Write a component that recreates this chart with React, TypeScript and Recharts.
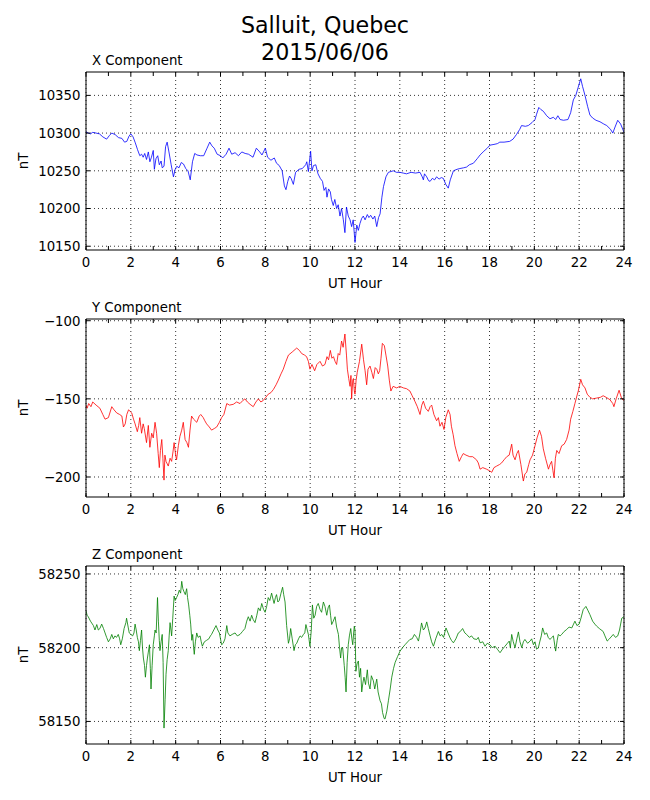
import React from 'react';
import { LineChart, Line, XAxis, YAxis, CartesianGrid, Label } from 'recharts';

const FONT = '"DejaVu Sans", sans-serif';

const hourTicks = [0, 1, 2, 3, 4, 5, 6, 7, 8, 9, 10, 11, 12, 13, 14, 15, 16, 17, 18, 19, 20, 21, 22, 23, 24];
const gridHours = [0, 2, 4, 6, 8, 10, 12, 14, 16, 18, 20, 22, 24];

const xTicks = [10150, 10200, 10250, 10300, 10350];
const yTicks = [-200, -150, -100];
const zTicks = [58150, 58200, 58250];

const xDomain = [10145, 10381];
const yDomain = [-212.8, -98.9];
const zDomain = [58134.7, 58255.4];

const xTimes = [
  0.0, 0.1, 0.2, 0.3, 0.45, 0.6, 0.75, 0.92, 1.05, 1.15, 1.3, 1.45, 1.6, 1.72, 1.82, 1.92, 2.0, 2.1, 2.2, 2.3,
  2.4, 2.48, 2.55, 2.62, 2.7, 2.78, 2.85, 2.92, 3.0, 3.05, 3.12, 3.2, 3.27, 3.35, 3.4, 3.48, 3.55, 3.62, 3.7, 3.8,
  3.9, 3.98, 4.05, 4.15, 4.25, 4.35, 4.45, 4.55, 4.65, 4.75, 4.85, 4.95, 5.1, 5.25, 5.4, 5.52, 5.62, 5.72, 5.85, 6.0,
  6.1, 6.25, 6.38, 6.5, 6.65, 6.8, 6.95, 7.1, 7.25, 7.45, 7.6, 7.75, 7.85, 8.0, 8.1, 8.25, 8.4, 8.5, 8.62, 8.75,
  8.85, 8.92, 9.0, 9.08, 9.15, 9.25, 9.35, 9.5, 9.65, 9.8, 9.85, 9.92, 10.02, 10.08, 10.15, 10.25, 10.35, 10.45, 10.55, 10.62,
  10.7, 10.75, 10.82, 10.9, 10.95, 11.03, 11.1, 11.18, 11.25, 11.33, 11.4, 11.48, 11.55, 11.62, 11.7, 11.78, 11.85, 11.92, 12.0, 12.08,
  12.15, 12.22, 12.3, 12.37, 12.45, 12.55, 12.62, 12.7, 12.8, 12.88, 12.97, 13.05, 13.12, 13.2, 13.27, 13.38, 13.49, 13.6, 13.71, 13.85,
  14.0, 14.15, 14.3, 14.5, 14.7, 14.9, 15.0, 15.05, 15.1, 15.2, 15.28, 15.35, 15.45, 15.55, 15.64, 15.75, 15.85, 15.94, 16.05, 16.16,
  16.25, 16.39, 16.55, 16.68, 16.85, 16.98, 17.1, 17.28, 17.45, 17.58, 17.75, 17.9, 18.02, 18.2, 18.35, 18.46, 18.65, 18.9, 19.05, 19.2,
  19.35, 19.43, 19.6, 19.73, 19.9, 20.03, 20.1, 20.2, 20.3, 20.4, 20.55, 20.7, 20.85, 20.95, 21.05, 21.15, 21.3, 21.5, 21.62, 21.74,
  21.85, 21.95, 22.07, 22.15, 22.26, 22.38, 22.48, 22.6, 22.75, 22.93, 23.1, 23.23, 23.4, 23.5, 23.6, 23.72, 23.85, 24.0,
];
const xValues = [
  10302, 10300, 10299, 10301, 10300, 10299, 10295, 10292, 10297, 10300, 10298, 10294, 10293, 10288, 10289, 10296, 10299, 10295, 10287, 10278,
  10270, 10272, 10268, 10273, 10265, 10275, 10262, 10268, 10277, 10252, 10266, 10270, 10258, 10263, 10254, 10256, 10282, 10288, 10275, 10258,
  10242, 10252, 10256, 10254, 10261, 10259, 10253, 10250, 10238, 10262, 10273, 10271, 10270, 10270, 10280, 10288, 10283, 10280, 10272, 10270,
  10267, 10272, 10280, 10272, 10274, 10270, 10275, 10273, 10272, 10268, 10280, 10275, 10271, 10280, 10268, 10264, 10267, 10260, 10257, 10250,
  10230, 10225, 10236, 10243, 10240, 10232, 10248, 10252, 10253, 10258, 10262, 10249, 10276, 10250, 10257, 10258, 10246, 10240, 10236, 10224,
  10228, 10215, 10226, 10222, 10212, 10204, 10212, 10200, 10205, 10190, 10200, 10185, 10168, 10202, 10190, 10185, 10176, 10185, 10155, 10178,
  10171, 10180, 10187, 10190, 10185, 10192, 10188, 10191, 10186, 10190, 10176, 10188, 10193, 10215, 10229, 10242, 10248, 10249, 10250, 10248,
  10248, 10247, 10246, 10248, 10247, 10248, 10242, 10238, 10246, 10242, 10237, 10236, 10240, 10238, 10242, 10239, 10241, 10240, 10232, 10227,
  10238, 10250, 10252, 10253, 10254, 10255, 10258, 10260, 10266, 10271, 10276, 10280, 10284, 10285, 10286, 10288, 10288, 10289, 10292, 10298,
  10305, 10310, 10309, 10310, 10314, 10318, 10325, 10334, 10331, 10329, 10323, 10319, 10321, 10318, 10323, 10318, 10317, 10318, 10327, 10344,
  10350, 10360, 10372, 10362, 10350, 10335, 10324, 10320, 10317, 10315, 10312, 10310, 10305, 10300, 10308, 10317, 10312, 10301,
];

const yTimes = [
  0.0, 0.05, 0.12, 0.22, 0.3, 0.45, 0.62, 0.75, 0.85, 1.0, 1.15, 1.25, 1.37, 1.5, 1.6, 1.67, 1.75, 1.82, 1.9, 2.04,
  2.12, 2.19, 2.29, 2.35, 2.4, 2.48, 2.55, 2.6, 2.7, 2.78, 2.85, 2.93, 3.0, 3.08, 3.15, 3.22, 3.27, 3.32, 3.38, 3.43,
  3.48, 3.52, 3.57, 3.67, 3.75, 3.82, 3.88, 3.93, 4.0, 4.04, 4.12, 4.19, 4.27, 4.34, 4.42, 4.5, 4.57, 4.64, 4.71, 4.8,
  4.94, 5.05, 5.12, 5.23, 5.3, 5.38, 5.5, 5.6, 5.72, 5.83, 5.95, 6.05, 6.15, 6.28, 6.4, 6.57, 6.72, 6.87, 7.0, 7.09,
  7.2, 7.32, 7.46, 7.58, 7.69, 7.8, 7.91, 8.02, 8.13, 8.25, 8.36, 8.48, 8.58, 8.7, 8.8, 8.92, 9.03, 9.2, 9.4, 9.52,
  9.62, 9.75, 9.84, 9.92, 9.99, 10.08, 10.2, 10.3, 10.44, 10.55, 10.66, 10.75, 10.82, 10.9, 10.97, 11.04, 11.11, 11.18, 11.25, 11.32,
  11.4, 11.47, 11.55, 11.62, 11.66, 11.72, 11.78, 11.82, 11.85, 11.9, 11.93, 11.97, 12.0, 12.05, 12.1, 12.2, 12.3, 12.38, 12.45, 12.52,
  12.58, 12.67, 12.75, 12.82, 12.9, 12.97, 13.04, 13.1, 13.16, 13.22, 13.31, 13.38, 13.46, 13.53, 13.6, 13.7, 13.86, 14.0, 14.16, 14.3,
  14.45, 14.55, 14.67, 14.78, 14.9, 14.98, 15.05, 15.15, 15.27, 15.35, 15.42, 15.52, 15.64, 15.72, 15.79, 15.88, 15.97, 16.05, 16.16, 16.24,
  16.3, 16.38, 16.46, 16.55, 16.65, 16.75, 16.83, 16.95, 17.12, 17.25, 17.42, 17.5, 17.58, 17.7, 17.87, 18.0, 18.1, 18.2, 18.32, 18.45,
  18.54, 18.65, 18.77, 18.88, 18.99, 19.05, 19.14, 19.22, 19.29, 19.4, 19.51, 19.58, 19.66, 19.75, 19.81, 19.92, 20.03, 20.12, 20.23, 20.32,
  20.4, 20.5, 20.63, 20.7, 20.77, 20.83, 20.88, 20.94, 21.0, 21.1, 21.22, 21.33, 21.44, 21.55, 21.62, 21.72, 21.81, 21.9, 21.96, 22.07,
  22.15, 22.26, 22.36, 22.48, 22.6, 22.78, 22.95, 23.07, 23.2, 23.37, 23.5, 23.55, 23.65, 23.78, 23.9, 24.0,
];
const yValues = [
  -154, -156, -153, -155, -152, -154, -156, -160, -163, -162, -155, -157, -159, -160, -161, -168, -166, -160, -157, -159,
  -163, -166, -171, -167, -162, -172, -166, -169, -178, -167, -181, -172, -175, -165, -172, -185, -194, -183, -176, -188,
  -202, -186, -190, -193, -188, -190, -184, -178, -186, -189, -180, -174, -170, -165, -176, -178, -181, -170, -161, -163,
  -165, -161, -160, -162, -164, -166, -168, -170, -169, -168, -165, -162, -160, -153, -154, -153.5, -152, -153, -151, -150,
  -152, -153.5, -155, -152, -150, -152, -151, -149, -147, -146, -144, -141, -138, -134, -131, -126, -122, -120, -117.5, -119,
  -121, -122, -123, -126, -131, -128, -132, -128, -126, -129, -128, -123, -125, -119, -124, -123, -126, -128, -121, -122,
  -113, -117, -108.5, -122, -131, -137, -142, -135, -150, -138, -137, -145, -147, -138, -133, -126, -115, -125, -132, -141,
  -131, -129, -133, -137, -130, -131, -134, -132, -124, -114.5, -116, -122, -129, -138, -145, -142, -143, -142, -143, -143.5,
  -145, -148, -151.5, -155, -160, -154, -151.5, -156, -158, -155, -154, -160, -164, -162, -167.5, -165, -169.6, -162, -157, -160,
  -167.5, -173, -180, -185, -190, -187, -185, -186, -187, -187, -189, -191, -195, -194, -195, -196, -197, -194, -193, -192,
  -191, -189, -187, -186, -179, -186, -189, -185, -183, -192, -202.6, -198, -197, -192, -189, -186, -180, -175, -170, -174,
  -182, -188, -195, -192, -190, -196, -200.5, -188, -183, -185, -180, -179, -176, -170, -163, -158, -153, -148, -145, -137.5,
  -141, -143, -147, -149, -150, -149.5, -149, -148, -149, -150.5, -153, -155, -150, -144.5, -150, -151,
];

const zTimes = [
  0.0, 0.05, 0.1, 0.2, 0.33, 0.4, 0.48, 0.55, 0.62, 0.7, 0.78, 0.85, 0.92, 1.0, 1.08, 1.15, 1.22, 1.29, 1.36, 1.44,
  1.5, 1.55, 1.62, 1.7, 1.78, 1.81, 1.88, 1.93, 2.0, 2.08, 2.14, 2.19, 2.24, 2.29, 2.34, 2.38, 2.43, 2.48, 2.52, 2.56,
  2.61, 2.65, 2.7, 2.74, 2.78, 2.83, 2.87, 2.9, 2.95, 3.0, 3.05, 3.08, 3.13, 3.19, 3.23, 3.27, 3.3, 3.35, 3.4, 3.44,
  3.48, 3.53, 3.57, 3.62, 3.67, 3.71, 3.75, 3.79, 3.82, 3.87, 3.93, 3.98, 4.04, 4.1, 4.16, 4.22, 4.27, 4.32, 4.37, 4.43,
  4.49, 4.53, 4.58, 4.63, 4.67, 4.72, 4.76, 4.8, 4.83, 4.88, 4.94, 5.0, 5.09, 5.14, 5.19, 5.28, 5.38, 5.48, 5.55, 5.6,
  5.7, 5.8, 5.88, 5.95, 6.05, 6.12, 6.2, 6.28, 6.33, 6.42, 6.52, 6.65, 6.75, 6.87, 6.98, 7.09, 7.17, 7.24, 7.32, 7.39,
  7.46, 7.54, 7.62, 7.69, 7.77, 7.84, 7.92, 7.99, 8.06, 8.13, 8.2, 8.28, 8.34, 8.39, 8.45, 8.5, 8.56, 8.62, 8.7, 8.77,
  8.82, 8.88, 8.95, 9.03, 9.08, 9.13, 9.2, 9.28, 9.34, 9.4, 9.48, 9.55, 9.62, 9.7, 9.76, 9.81, 9.87, 9.92, 9.99, 10.05,
  10.1, 10.16, 10.22, 10.29, 10.36, 10.44, 10.51, 10.59, 10.66, 10.74, 10.8, 10.86, 10.91, 10.96, 11.03, 11.11, 11.18, 11.26, 11.31, 11.36,
  11.4, 11.45, 11.52, 11.56, 11.6, 11.65, 11.7, 11.75, 11.81, 11.86, 11.9, 11.94, 11.97, 12.0, 12.04, 12.09, 12.15, 12.2, 12.25, 12.3,
  12.35, 12.4, 12.47, 12.55, 12.6, 12.67, 12.73, 12.82, 12.88, 12.97, 13.03, 13.12, 13.18, 13.23, 13.3, 13.34, 13.42, 13.49, 13.57, 13.64,
  13.72, 13.79, 13.9, 14.01, 14.12, 14.23, 14.35, 14.45, 14.55, 14.65, 14.75, 14.83, 14.9, 14.97, 15.05, 15.12, 15.2, 15.27, 15.35, 15.42,
  15.5, 15.6, 15.72, 15.8, 15.87, 15.95, 16.06, 16.15, 16.24, 16.3, 16.39, 16.5, 16.61, 16.7, 16.8, 16.9, 16.98, 17.1, 17.2, 17.3,
  17.43, 17.5, 17.58, 17.7, 17.8, 17.9, 18.02, 18.12, 18.25, 18.35, 18.47, 18.58, 18.69, 18.8, 18.88, 18.93, 18.99, 19.06, 19.14, 19.22,
  19.29, 19.36, 19.44, 19.51, 19.58, 19.7, 19.81, 19.88, 19.96, 20.03, 20.1, 20.18, 20.25, 20.31, 20.37, 20.46, 20.55, 20.62, 20.7, 20.78,
  20.85, 20.95, 21.02, 21.07, 21.15, 21.22, 21.33, 21.44, 21.55, 21.67, 21.75, 21.81, 21.9, 22.0, 22.08, 22.18, 22.3, 22.4, 22.48, 22.6,
  22.7, 22.78, 22.9, 23.07, 23.15, 23.25, 23.35, 23.52, 23.62, 23.72, 23.8, 23.9, 24.0,
];
const zValues = [
  58225, 58222, 58221, 58218, 58215, 58212, 58215.7, 58212, 58213, 58216, 58213, 58210, 58207, 58204, 58206, 58209, 58206, 58208, 58207, 58209,
  58206, 58202, 58206, 58213, 58217, 58220, 58214, 58210, 58209, 58208, 58210, 58216, 58212, 58207, 58204, 58198, 58205, 58212, 58200, 58193,
  58188, 58180, 58188, 58193, 58197, 58202, 58186, 58172, 58188, 58202, 58208, 58212, 58210, 58234, 58218, 58205, 58198, 58204, 58209, 58190,
  58145.5, 58165, 58182, 58192, 58198, 58208, 58217, 58212, 58208, 58220, 58235, 58232, 58234, 58236, 58239, 58237, 58245, 58240, 58238, 58236,
  58240, 58234, 58229, 58222, 58216, 58205, 58209, 58200, 58195.5, 58204, 58210, 58207, 58208, 58204, 58201, 58204, 58205, 58206, 58208, 58209,
  58212, 58215, 58212, 58210, 58202, 58203, 58206, 58215, 58210, 58208, 58209, 58210, 58208, 58209, 58211, 58213, 58218, 58221, 58218, 58222,
  58219, 58217, 58222, 58227, 58225, 58230, 58226, 58224, 58228, 58234, 58232, 58237, 58233, 58230, 58234, 58236, 58231, 58232, 58237, 58241,
  58236, 58231, 58215, 58203, 58206, 58213, 58206, 58198, 58202, 58203, 58206, 58208, 58207, 58209, 58210, 58215.7, 58212, 58209, 58201, 58212,
  58229, 58220, 58222, 58228, 58230, 58226, 58224, 58231, 58228, 58222, 58227, 58229, 58222, 58215.7, 58218, 58221, 58214, 58209, 58200, 58193,
  58200, 58200, 58188, 58180, 58170, 58190, 58202, 58208, 58213, 58206, 58202, 58210, 58214.6, 58212, 58184, 58189, 58191, 58180, 58186, 58170,
  58176, 58180, 58175, 58185, 58176, 58172, 58181, 58177.5, 58172, 58178.7, 58170, 58164, 58162, 58156, 58152, 58151.7, 58157, 58164, 58172, 58180,
  58186, 58190, 58194, 58197.7, 58200, 58202, 58204, 58205.6, 58206, 58209, 58207, 58204.5, 58210, 58216.8, 58212, 58213.4, 58217.5, 58213, 58208, 58204,
  58201, 58206, 58211, 58208, 58209, 58207, 58213.4, 58210, 58206.7, 58205, 58203.3, 58206, 58210, 58211, 58213, 58210, 58209, 58207, 58208, 58206,
  58205.6, 58207, 58203.3, 58204, 58201, 58203, 58202, 58200, 58201, 58199, 58196.6, 58199, 58201, 58203, 58204.5, 58200, 58209, 58204, 58200, 58206,
  58210.7, 58204, 58200, 58204, 58205.6, 58203, 58204.5, 58206, 58202, 58204, 58199, 58200, 58204.5, 58208, 58213.4, 58209, 58210, 58207, 58205.6, 58207,
  58208, 58197.7, 58205, 58209, 58208, 58209, 58211, 58212.3, 58214, 58213.4, 58216, 58218, 58215, 58216, 58220, 58225.8, 58228, 58225, 58222.4, 58218,
  58216, 58214.6, 58213, 58211, 58208, 58204.5, 58206, 58209, 58207, 58208, 58212, 58220, 58221,
];

const TICK_FS = 13.3;
const TICK_LEN = 4;

const fmt = (v: number) => String(v).replace('-', '\u2212');

const renderBottomTick = (p: any) => {
  const { x, y, payload } = p;
  const v = payload.value;
  return (
    <g>
      <line x1={x} y1={y} x2={x} y2={y - TICK_LEN} stroke="#000" strokeWidth={1} />
      {v % 2 === 0 ? (
        <text x={x} y={y + 16.7} textAnchor="middle" fontSize={TICK_FS} fontFamily={FONT} fill="#000">
          {fmt(v)}
        </text>
      ) : null}
    </g>
  );
};

const renderTopTick = (p: any) => {
  const { x, y } = p;
  return <line x1={x} y1={y} x2={x} y2={y + TICK_LEN} stroke="#000" strokeWidth={1} />;
};

const renderLeftTick = (p: any) => {
  const { x, y, payload } = p;
  return (
    <g>
      <line x1={x} y1={y} x2={x + TICK_LEN} y2={y} stroke="#000" strokeWidth={1} />
      <text x={x - 5.5} y={y} dy={4.8} textAnchor="end" fontSize={TICK_FS} fontFamily={FONT} fill="#000">
        {fmt(payload.value)}
      </text>
    </g>
  );
};

const renderRightTick = (p: any) => {
  const { x, y } = p;
  return <line x1={x} y1={y} x2={x - TICK_LEN} y2={y} stroke="#000" strokeWidth={1} />;
};

type PanelProps = {
  top: number;
  title: string;
  times: number[];
  values: number[];
  color: string;
  domain: number[];
  ticks: number[];
};

function Panel({ top, title, times, values, color, domain, ticks }: PanelProps) {
  const data = times.map((t, i) => ({ t, v: values[i] }));
  return (
    <div style={{ position: 'absolute', left: 0, top }}>
      <LineChart width={650} height={248} data={data} margin={{ top: 29, right: 25, bottom: 0, left: 30 }}>
        <CartesianGrid
          xAxisId="bottom"
          yAxisId="left"
          verticalValues={gridHours}
          horizontalValues={ticks}
          syncWithTicks
          stroke="#000"
          strokeDasharray="1 3"
          strokeWidth={0.8}
        />
        <XAxis
          xAxisId="bottom"
          dataKey="t"
          type="number"
          domain={[0, 24]}
          allowDataOverflow
          ticks={hourTicks}
          interval={0}
          height={40}
          tickSize={0}
          tickMargin={0}
          tickLine={false}
          axisLine={{ stroke: '#000', strokeWidth: 1 }}
          tick={renderBottomTick}
        >
          <Label
            content={(lp: any) => {
              const vb = lp.viewBox;
              return (
                <text x={vb.x + vb.width / 2} y={vb.y + 38} textAnchor="middle" fontSize={TICK_FS} fontFamily={FONT} fill="#000">
                  UT Hour
                </text>
              );
            }}
          />
        </XAxis>
        <XAxis
          xAxisId="top"
          orientation="top"
          dataKey="t"
          type="number"
          domain={[0, 24]}
          allowDataOverflow
          ticks={hourTicks}
          interval={0}
          height={1}
          tickSize={0}
          tickMargin={0}
          tickLine={false}
          axisLine={{ stroke: '#000', strokeWidth: 1 }}
          tick={renderTopTick}
        >
          <Label
            content={(lp: any) => {
              const vb = lp.viewBox;
              return (
                <text x={vb.x + 6} y={vb.y + vb.height - 7} textAnchor="start" fontSize={TICK_FS} fontFamily={FONT} fill="#000">
                  {title}
                </text>
              );
            }}
          />
        </XAxis>
        <YAxis
          yAxisId="left"
          type="number"
          domain={domain}
          allowDataOverflow
          ticks={ticks}
          interval={0}
          width={56}
          tickSize={0}
          tickMargin={0}
          tickLine={false}
          axisLine={{ stroke: '#000', strokeWidth: 1 }}
          tick={renderLeftTick}
        >
          <Label
            content={(lp: any) => {
              const vb = lp.viewBox;
              const cx = vb.x - 1.7;
              const cy = vb.y + vb.height / 2;
              return (
                <text
                  x={cx}
                  y={cy}
                  transform={`rotate(-90, ${cx}, ${cy})`}
                  textAnchor="middle"
                  fontSize={TICK_FS}
                  fontFamily={FONT}
                  fill="#000"
                >
                  nT
                </text>
              );
            }}
          />
        </YAxis>
        <YAxis
          yAxisId="right"
          orientation="right"
          type="number"
          domain={domain}
          allowDataOverflow
          ticks={ticks}
          interval={0}
          width={1}
          tickSize={0}
          tickMargin={0}
          tickLine={false}
          axisLine={{ stroke: '#000', strokeWidth: 1 }}
          tick={renderRightTick}
        />
        <Line
          xAxisId="bottom"
          yAxisId="left"
          type="linear"
          dataKey="v"
          stroke={color}
          strokeWidth={0.8}
          dot={false}
          activeDot={false}
          isAnimationActive={false}
        />
      </LineChart>
    </div>
  );
}

export default function App() {
  return (
    <div
      style={{
        position: 'absolute',
        left: 0,
        top: 0,
        width: 650,
        height: 800,
        background: '#fff',
        fontFamily: FONT,
        overflow: 'hidden',
      }}
    >
      <svg width={650} height={70} style={{ position: 'absolute', left: 0, top: 0 }}>
        <text x={325} y={33.3} textAnchor="middle" fontSize={22.2} fontFamily={FONT} fill="#000">
          Salluit, Quebec
        </text>
        <text x={325} y={60} textAnchor="middle" fontSize={22.2} fontFamily={FONT} fill="#000">
          2015/06/06
        </text>
      </svg>
      <Panel top={42} title="X Component" times={xTimes} values={xValues} color="#0000ff" domain={xDomain} ticks={xTicks} />
      <Panel top={289} title="Y Component" times={yTimes} values={yValues} color="#ff0000" domain={yDomain} ticks={yTicks} />
      <Panel top={536} title="Z Component" times={zTimes} values={zValues} color="#008000" domain={zDomain} ticks={zTicks} />
    </div>
  );
}
